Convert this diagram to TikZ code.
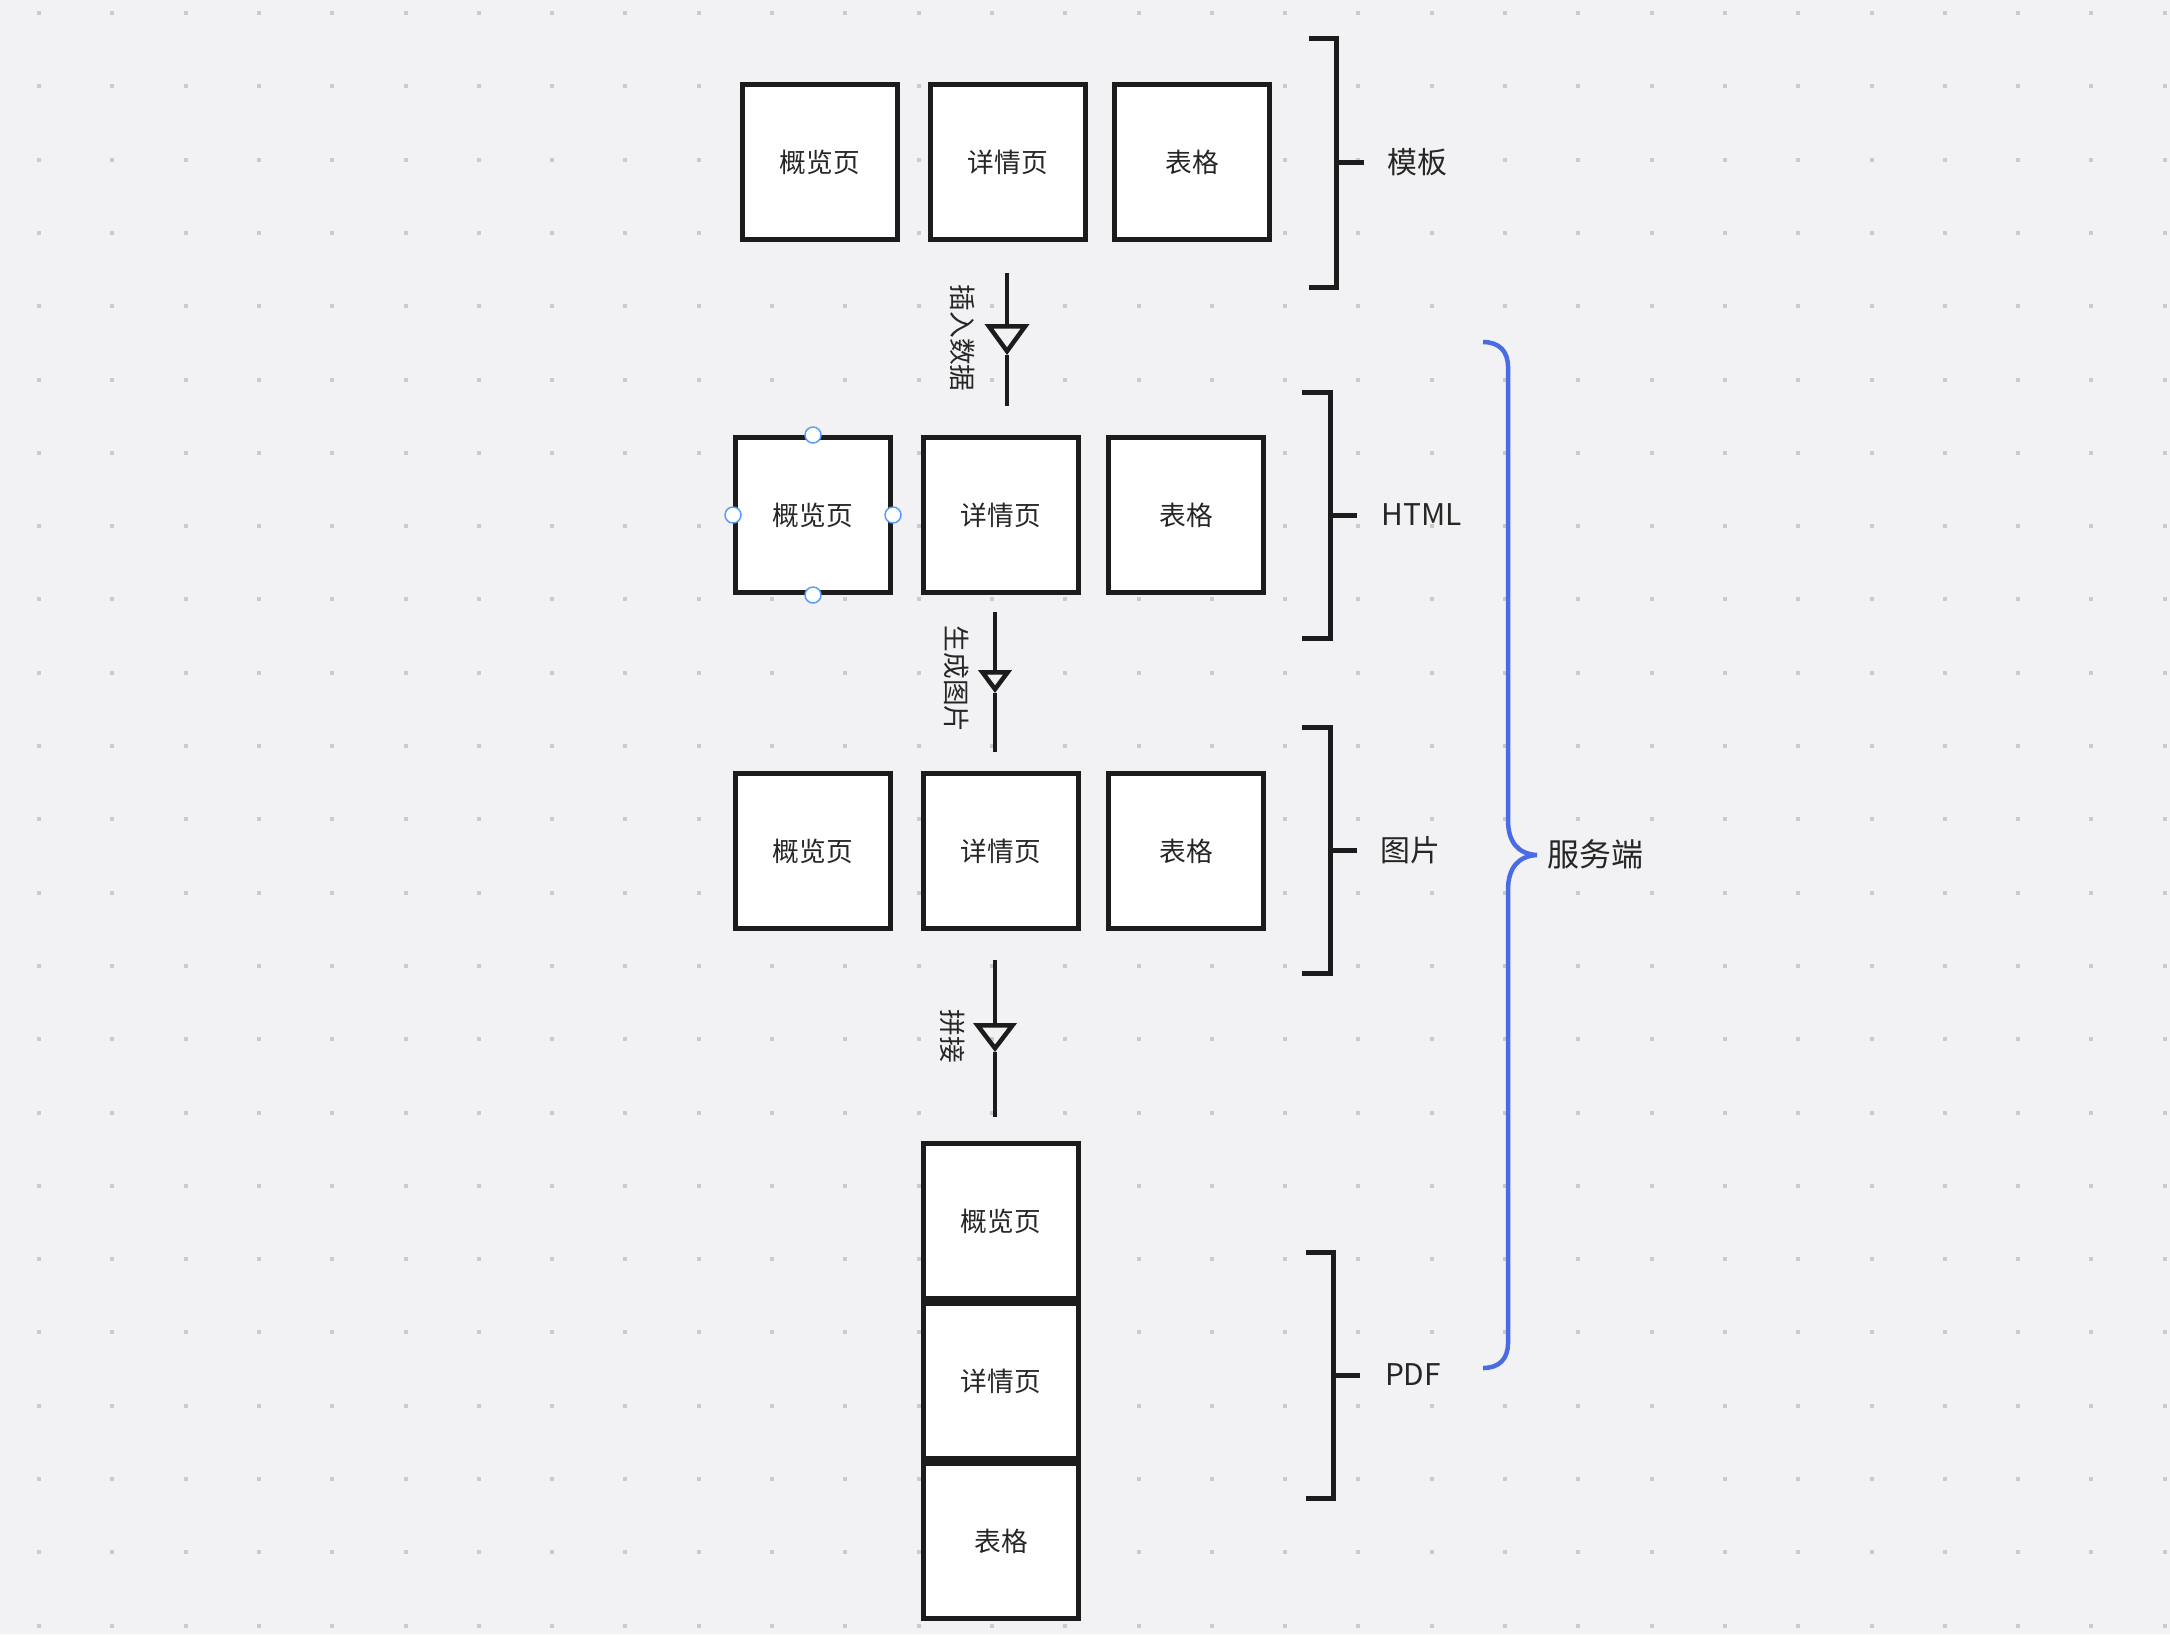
\documentclass[tikz,border=0pt]{standalone}
\usepackage{fontspec}
\setmainfont{Noto Sans CJK SC}
\usetikzlibrary{arrows.meta}

\definecolor{canvasbg}{HTML}{F2F2F4}
\definecolor{griddot}{HTML}{CBCBCD}
\definecolor{boxline}{HTML}{1C1C1C}
\definecolor{labeltext}{HTML}{262626}
\definecolor{serverblue}{HTML}{4A6BE6}
\definecolor{handleblue}{HTML}{5A9CF8}

\tikzset{
  pagebox/.style={draw=boxline, fill=white, line width=0.5mm,
    minimum width=15.5mm, minimum height=15.5mm, inner sep=0pt,
    text=labeltext, font=\fontsize{7.6pt}{9pt}\selectfont},
  flowline/.style={draw=boxline, line width=0.45mm},
  steplabel/.style={rotate=-90, inner sep=0pt, text=labeltext,
    font=\fontsize{7.6pt}{9pt}\selectfont},
  bracketline/.style={draw=boxline, line width=0.5mm},
  sidelabel/.style={inner sep=0pt, text=labeltext,
    font=\fontsize{8.5pt}{10pt}\selectfont},
  handle/.style={draw=handleblue, fill=white, line width=0.15mm}
}

\begin{document}
\begin{tikzpicture}[x=0.1mm,y=-0.1mm]
	% canvas and dot grid
	\fill[canvasbg] (0,0) rectangle (2170,1634);
	\useasboundingbox (0,0) rectangle (2170,1634);
	\foreach \i in {0,...,29}
		\foreach \j in {0,...,22}
			\fill[griddot] ({37+73.3*\i},{11+73.3*\j}) rectangle +(4,4);
	
	% templates
	\node[pagebox] (tplOverview) at (820,162) {概览页};
	\node[pagebox] (tplDetail) at (1008,162) {详情页};
	\node[pagebox] (tplTable) at (1192,162) {表格};
	
	% html
	\node[pagebox] (htmlOverview) at (813,515) {概览页};
	\node[pagebox] (htmlDetail) at (1001,515) {详情页};
	\node[pagebox] (htmlTable) at (1186,515) {表格};
	\foreach \a in {north,south,west,east}
		\draw[handle] (htmlOverview.\a) circle (8);
	
	% images
	\node[pagebox] (imgOverview) at (813,851) {概览页};
	\node[pagebox] (imgDetail) at (1001,851) {详情页};
	\node[pagebox] (imgTable) at (1186,851) {表格};
	
	% pdf
	\node[pagebox] (pdfOverview) at (1001,1221) {概览页};
	\node[pagebox] (pdfDetail) at (1001,1381) {详情页};
	\node[pagebox] (pdfTable) at (1001,1541) {表格};
	
	% steps between the rows
	\coordinate (insTop) at (1007,273);
	\coordinate (insTip) at (1007,355);
	\coordinate (insEnd) at (1007,406);
	\draw[flowline, -{Triangle[open,length=3.1mm,width=4.4mm]}] (insTop) -- (insTip);
	\draw[flowline] (insTip) -- (insEnd);
	\node[steplabel] (insLabel) at (963,338) {插入数据};
	
	\coordinate (genTop) at (995,612);
	\coordinate (genTip) at (995,693);
	\coordinate (genEnd) at (995,752);
	\draw[flowline, -{Triangle[open,length=2.3mm,width=3.3mm]}] (genTop) -- (genTip);
	\draw[flowline] (genTip) -- (genEnd);
	\node[steplabel] (genLabel) at (957,679) {生成图片};
	
	\coordinate (joinTop) at (995,960);
	\coordinate (joinTip) at (995,1052);
	\coordinate (joinEnd) at (995,1117);
	\draw[flowline, -{Triangle[open,length=2.9mm,width=4.3mm]}] (joinTop) -- (joinTip);
	\draw[flowline] (joinTip) -- (joinEnd);
	\node[steplabel] (joinLabel) at (953,1036) {拼接};
	
	% brackets
	\draw[bracketline] (1309,38) -- (1336,38) -- (1336,287) -- (1309,287);
	\draw[bracketline] (1336,162) -- (1364,162);
	\node[sidelabel] (tplLabel) at (1417,162) {模板};
	
	\draw[bracketline] (1302,392) -- (1330,392) -- (1330,638) -- (1302,638);
	\draw[bracketline] (1330,515) -- (1357,515);
	\node[sidelabel] (htmlLabel) at (1422,515) {HTML};
	
	\draw[bracketline] (1302,727) -- (1330,727) -- (1330,973) -- (1302,973);
	\draw[bracketline] (1330,850) -- (1357,850);
	\node[sidelabel] (imgLabel) at (1410,850) {图片};
	
	\draw[bracketline] (1306,1252) -- (1333,1252) -- (1333,1498) -- (1306,1498);
	\draw[bracketline] (1333,1375) -- (1360,1375);
	\node[sidelabel] (pdfLabel) at (1413,1375) {PDF};
	
	% server side brace
	\draw[serverblue, line width=0.45mm]
		(1483,342) .. controls (1499,342) and (1508,351) .. (1508,367)
		-- (1508,820) .. controls (1508,842) and (1518,854) .. (1537,855)
		.. controls (1518,856) and (1508,868) .. (1508,890)
		-- (1508,1343) .. controls (1508,1359) and (1499,1368) .. (1483,1368);
	\node[sidelabel, font=\fontsize{9.1pt}{11pt}\selectfont] (serverLabel) at (1595,854) {服务端};
\end{tikzpicture}
\end{document}
